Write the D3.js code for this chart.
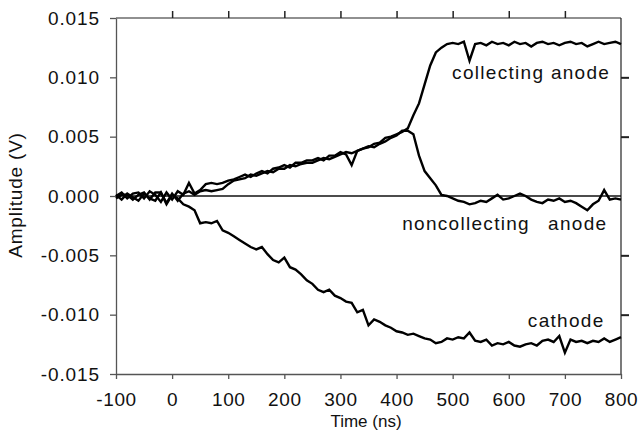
<!DOCTYPE html>
<html>
<head>
<meta charset="utf-8">
<script src="https://cdn.jsdelivr.net/npm/d3@7"></script>
<style>
  body { margin: 0; background: #fff; }
  text { font-family: "Liberation Sans", Arial, sans-serif; fill: #111; }
</style>
</head>
<body>
<script>
// DATA (time in ns, amplitudes in mV)

const times = [
  -100, -90, -80, -70, -60, -50, -40, -30, -20, -10,
  0, 10, 20, 30, 40, 50, 60, 70, 80, 90,
  100, 110, 120, 130, 140, 150, 160, 170, 180, 190,
  200, 210, 220, 230, 240, 250, 260, 270, 280, 290,
  300, 310, 320, 330, 340, 350, 360, 370, 380, 390,
  400, 410, 420, 430, 440, 450, 460, 470, 480, 490,
  500, 510, 520, 530, 540, 550, 560, 570, 580, 590,
  600, 610, 620, 630, 640, 650, 660, 670, 680, 690,
  700, 710, 720, 730, 740, 750, 760, 770, 780, 790,
  800
];

const collectingAnode = [
  0.0, 0.3, -0.2, 0.2, 0.3, -0.2, 0.4, 0.1, -0.5, 0.3,
  -0.3, 0.4, 0.1, 1.1, 0.2, 0.5, 1.0, 1.1, 1.0, 1.1,
  1.3, 1.4, 1.6, 1.8, 1.6, 1.9, 2.1, 1.9, 2.3, 2.4,
  2.6, 2.4, 2.8, 2.8, 3.0, 3.0, 3.2, 3.0, 3.4, 3.4,
  3.7, 3.5, 2.6, 3.8, 4.0, 4.1, 4.4, 4.5, 4.9, 5.0,
  5.2, 5.4, 5.7, 6.8, 7.8, 9.4, 11.0, 12.1, 12.5, 12.8,
  12.9, 12.8, 13.0, 11.4, 12.8, 12.9, 12.7, 13.0, 12.8, 12.9,
  12.7, 13.0, 12.8, 12.9, 12.6, 12.9, 13.0, 12.8, 12.9, 12.7,
  12.9, 13.0, 12.8, 12.9, 12.6, 12.8, 13.0, 12.8, 12.9, 13.0,
  12.8
];

const noncollectingAnode = [
  -0.2, 0.1, 0.1, -0.3, 0.1, 0.3, -0.3, 0.3, 0.3, -0.6,
  0.2, -0.4, 0.2, 0.4, 0.1, 0.4, 0.5, 0.4, 0.5, 0.6,
  1.0, 1.3, 1.4, 1.5, 1.8, 1.7, 1.9, 2.1, 2.0, 2.3,
  2.3, 2.6, 2.5, 2.7, 2.8, 2.8, 3.0, 3.2, 3.1, 3.3,
  3.5, 3.7, 3.6, 3.8, 4.0, 4.2, 4.1, 4.4, 4.6, 4.9,
  5.1, 5.5, 5.5, 5.2, 3.4, 2.1, 1.5, 0.9, 0.1, 0.0,
  -0.2, -0.4, -0.5, -0.7, -0.6, -0.4, -0.5, -0.2, 0.1, -0.3,
  -0.2, 0.0, 0.2, 0.0, -0.3, -0.5, -0.6, -0.3, -0.4, -0.2,
  -0.5, -0.4, -0.6, -0.9, -1.2, -0.7, -0.4, 0.5, -0.3, -0.2,
  -0.3
];

const cathode = [
  0.1, -0.3, 0.2, -0.1, -0.4, 0.2, -0.2, -0.4, 0.3, -0.7,
  0.1, -0.2, -0.7, -0.9, -1.2, -2.3, -2.2, -2.3, -2.1, -2.9,
  -3.1, -3.4, -3.7, -4.0, -4.3, -4.5, -4.3, -4.9, -5.4, -5.6,
  -5.2, -6.0, -6.2, -6.6, -7.1, -7.4, -7.9, -8.1, -7.9, -8.4,
  -8.6, -8.9, -9.0, -9.8, -9.6, -10.9, -10.4, -10.6, -10.9, -11.1,
  -11.4, -11.5, -11.7, -11.6, -11.8, -12.0, -12.1, -12.4, -12.3, -12.0,
  -12.1, -11.9, -12.0, -11.5, -12.2, -12.3, -12.1, -12.6, -12.4, -12.5,
  -12.3, -12.6, -12.7, -12.5, -12.4, -12.6, -12.2, -12.1, -12.3, -11.8,
  -13.2, -12.1, -12.3, -12.2, -12.4, -12.2, -12.3, -12.0, -12.3, -12.1,
  -11.9
];

const xTicks = [-100, 0, 100, 200, 300, 400, 500, 600, 700, 800];
const xTickLabels = ["-100", "0", "100", "200", "300", "400", "500", "600", "700", "800"];
const yTicks = [-0.015, -0.010, -0.005, 0.000, 0.005, 0.010, 0.015];
const yTickLabels = ["-0.015", "-0.010", "-0.005", "0.000", "0.005", "0.010", "0.015"];

// trace labels: [text, time, amplitude (V)]
const traceLabels = [
  ["collecting anode", 499, 0.0099],
  ["noncollecting", 410, -0.0029],
  ["anode", 670, -0.0029],
  ["cathode", 634, -0.0110]
];

// CHART

const width = 641;
const height = 439;

const svg = d3.select("body").append("svg")
  .attr("width", width)
  .attr("height", height);

const x = d3.scaleLinear().domain([-100, 800]).range([116, 621]);
const y = d3.scaleLinear().domain([-0.015, 0.015]).range([374, 18]);

// frame top + right
svg.append("line")
  .attr("x1", x(-100)).attr("x2", x(800))
  .attr("y1", y(0.015)).attr("y2", y(0.015))
  .attr("stroke", "#222").attr("stroke-width", 1.2);
svg.append("line")
  .attr("x1", x(800)).attr("x2", x(800))
  .attr("y1", y(0.015)).attr("y2", y(-0.015))
  .attr("stroke", "#222").attr("stroke-width", 1.2);

// top ticks (no labels)
svg.append("g")
  .attr("transform", "translate(0," + y(0.015) + ")")
  .call(d3.axisTop(x).tickValues(xTicks.slice(1, -1)).tickFormat("").tickSizeInner(7).tickSizeOuter(0))
  .call(g => g.select(".domain").remove())
  .call(g => g.selectAll("line").attr("stroke", "#222").attr("stroke-width", 1.5));

// right ticks (no labels)
svg.append("g")
  .attr("transform", "translate(" + x(800) + ",0)")
  .call(d3.axisRight(y).tickValues([0.010, 0.005, -0.005, -0.010]).tickFormat("").tickSizeInner(8).tickSizeOuter(0))
  .call(g => g.select(".domain").remove())
  .call(g => g.selectAll("line").attr("stroke", "#222").attr("stroke-width", 2));

// bottom axis
svg.append("g")
  .attr("transform", "translate(0," + y(-0.015) + ")")
  .call(d3.axisBottom(x).tickValues(xTicks).tickFormat((d, i) => xTickLabels[i])
    .tickSizeInner(5).tickSizeOuter(0).tickPadding(14))
  .call(g => g.select(".domain").attr("stroke", "#555").attr("stroke-width", 1.3))
  .call(g => g.selectAll("line").attr("stroke", "#555").attr("stroke-width", 1.3))
  .call(g => g.selectAll("text")
    .style("font-size", "19px").style("letter-spacing", "0.6px")
    .attr("fill", "#111").attr("font-family", null));

// left axis
svg.append("g")
  .attr("transform", "translate(" + x(-100) + ",0)")
  .call(d3.axisLeft(y).tickValues(yTicks).tickFormat((d, i) => yTickLabels[i])
    .tickSizeInner(6).tickSizeOuter(0).tickPadding(10))
  .call(g => g.select(".domain").attr("stroke", "#555").attr("stroke-width", 1.3))
  .call(g => g.selectAll("line").attr("stroke", "#555").attr("stroke-width", 1.3))
  .call(g => g.selectAll("text")
    .style("font-size", "19px").style("letter-spacing", "0.9px")
    .attr("fill", "#111").attr("font-family", null));

// zero line
svg.append("line")
  .attr("x1", x(-100)).attr("x2", x(800))
  .attr("y1", y(0)).attr("y2", y(0))
  .attr("stroke", "#111").attr("stroke-width", 1.6);

// traces
const line = d3.line()
  .x((d, i) => x(times[i]))
  .y(d => y(d / 1000));

[noncollectingAnode, collectingAnode, cathode].forEach(series => {
  svg.append("path")
    .attr("d", line(series))
    .attr("fill", "none")
    .attr("stroke", "#000")
    .attr("stroke-width", 2.4)
    .attr("stroke-linejoin", "miter");
});

// trace labels
svg.selectAll("text.lbl")
  .data(traceLabels)
  .join("text")
  .attr("class", "lbl")
  .attr("x", d => x(d[1]))
  .attr("y", d => y(d[2]))
  .style("font-size", "19px")
  .style("letter-spacing", "1.3px")
  .text(d => d[0]);

// axis titles
svg.append("text")
  .attr("x", 366)
  .attr("y", 427)
  .attr("text-anchor", "middle")
  .style("font-size", "17px")
  .text("Time (ns)");

svg.append("text")
  .attr("transform", "translate(22,195) rotate(-90)")
  .attr("text-anchor", "middle")
  .style("font-size", "19px")
  .style("letter-spacing", "0.8px")
  .text("Amplitude (V)");
</script>
</body>
</html>
